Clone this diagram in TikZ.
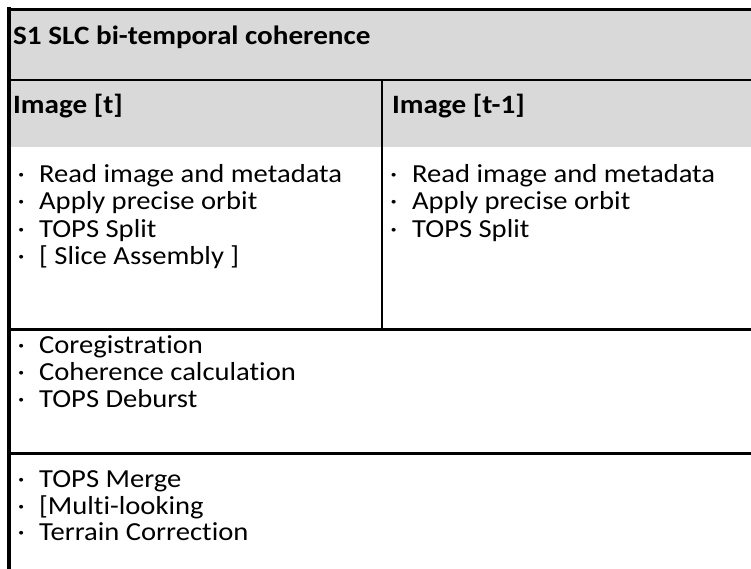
\documentclass[tikz,border=0pt]{standalone}
\usepackage{fontspec}
\setmainfont{Carlito}[FakeStretch=1.1, Ligatures=NoCommon]
\definecolor{headgray}{HTML}{D9D9D9}
\newcommand\bulA{\makebox[21.5pt][l]{·}}
\newcommand\bulB{\makebox[22pt][l]{·}}
\begin{document}
\begin{tikzpicture}[x=1pt,y=-1pt,
  rule/.style={line width=2.7pt, black},
  frame/.style={line width=3.3pt, black},
  body/.style={anchor=base west, inner sep=0pt, font=\fontsize{26}{27}\selectfont},
  head/.style={anchor=base west, inner sep=0pt, font=\fontsize{26.5}{27}\selectfont\bfseries}]
\useasboundingbox (0,0) rectangle (751,569);
% grey header band
\fill[headgray] (9,9) rectangle (751,147);
% frame and rules
\draw[frame] (7.5,9.3) -- (751,9.3);
\draw[frame] (9,7.5) -- (9,569);
\draw[rule] (9,80) -- (751,80);
\draw[rule] (382,80) -- (382,329.5);
\draw[rule] (9,329.5) -- (751,329.5);
\draw[rule, line width=3pt] (9,453) -- (751,453);
% headers
\node[head] (title) at (13,45) {S1 SLC bi-temporal coherence};
\node[head] (hl) at (13,114) {Image [t]};
\node[head] (hr) at (392,114) {Image [t-1]};
% left column
\node[body] (l1) at (17.5,183) {\bulA Read image and metadata};
\node[body] (l2) at (17.5,210) {\bulA Apply precise orbit};
\node[body] (l3) at (17.5,237) {\bulA TOPS Split};
\node[body] (l4) at (17.5,264) {\bulA [ Slice Assembly ]};
% right column
\node[body] (r1) at (390,183) {\bulB Read image and metadata};
\node[body] (r2) at (390,210) {\bulB Apply precise orbit};
\node[body] (r3) at (390,237) {\bulB TOPS Split};
% third row
\node[body] (m1) at (17.5,353) {\bulA Coregistration};
\node[body] (m2) at (17.5,380) {\bulA Coherence calculation};
\node[body] (m3) at (17.5,407) {\bulA TOPS Deburst};
% fourth row
\node[body] (b1) at (17.5,487) {\bulA TOPS Merge};
\node[body] (b2) at (17.5,514) {\bulA [Multi-looking};
\node[body] (b3) at (17.5,540) {\bulA Terrain Correction};
\end{tikzpicture}
\end{document}
